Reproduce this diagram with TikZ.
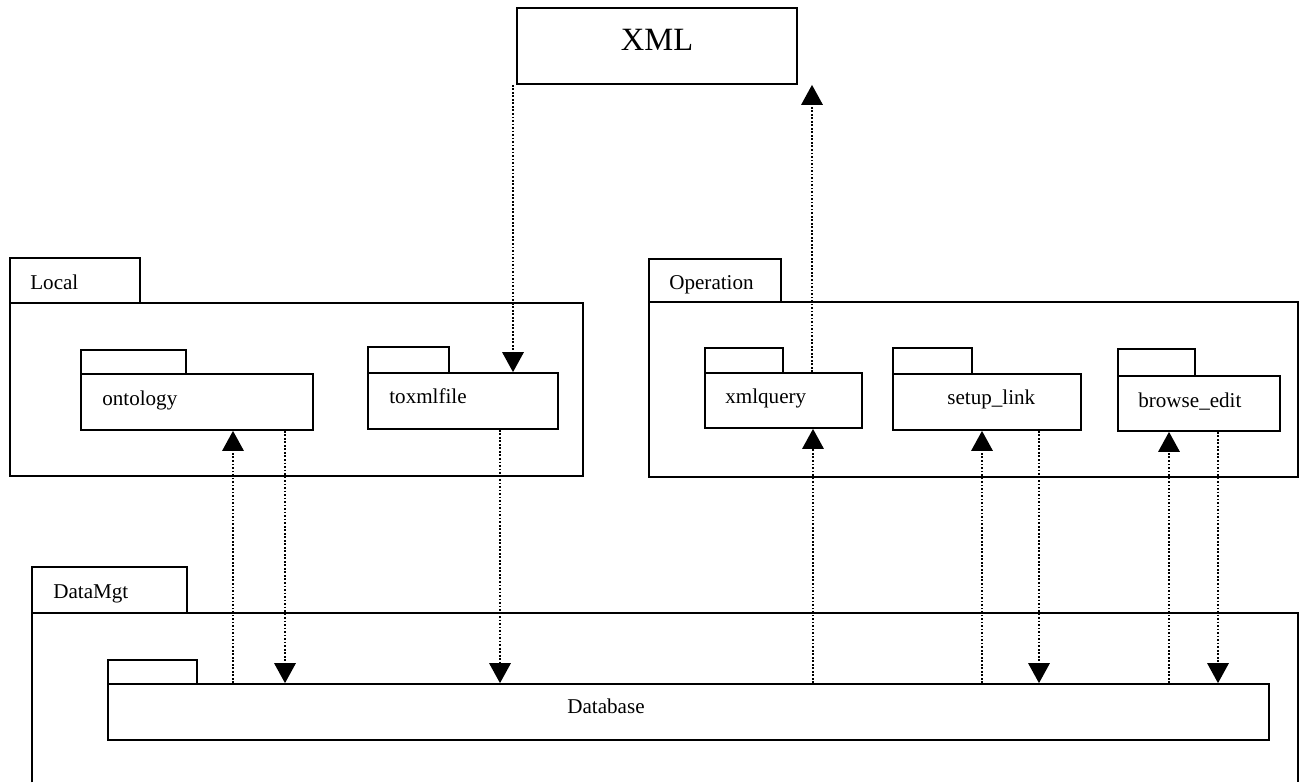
\documentclass[tikz,border=0pt]{standalone}
\usepackage{fontspec}
\setmainfont{Liberation Serif}
\usetikzlibrary{arrows.meta,fit}
\begin{document}
\begin{tikzpicture}[x=0.02cm,y=-0.02cm,
  box/.style={draw,line width=1pt,inner sep=0pt,fit={#1}},
  ghost/.style={inner sep=0pt,fit={#1}},
  lbl/.style={anchor=base west,inner sep=0pt,font=\fontsize{12}{14}\selectfont},
  dep/.style={line width=0.9pt,dash pattern=on 1pt off 1pt,
    -{Triangle[width=0.43cm,length=0.4cm]}},
  plain/.style={line width=0.9pt,dash pattern=on 1pt off 1pt}]
\useasboundingbox (0,0) rectangle (1304,782);

% top-level XML box
\node[box={(517,8) (797,84)}] (xml) {};
\node[anchor=base,inner sep=0pt,font=\fontsize{18.5}{22}\selectfont] (xmllbl) at (657,50) {XML};

% package Local
\node[box={(10,258) (140,303)}] (localtab) {};
\node[box={(10,303) (583,476)}] (local) {};
\node[lbl] (locallbl) at (30,289) {Local};
\node[box={(81,350) (186,374)}] (onttab) {};
\node[box={(81,374) (313,430)}] (ont) {};
\node[lbl] (ontlbl) at (102,405) {ontology};
\node[box={(368,347) (449,373)}] (toxtab) {};
\node[box={(368,373) (558,429)}] (tox) {};
\node[lbl] (toxlbl) at (389,403) {toxmlfile};

% package Operation
\node[box={(649,259) (781,302)}] (optab) {};
\node[box={(649,302) (1298,477)}] (op) {};
\node[lbl] (oplbl) at (669,289) {Operation};
\node[box={(705,348) (783,373)}] (xqtab) {};
\node[box={(705,373) (862,428)}] (xq) {};
\node[lbl] (xqlbl) at (725,403) {xmlquery};
\node[box={(893,348) (972,374)}] (sltab) {};
\node[box={(893,374) (1081,430)}] (sl) {};
\node[lbl] (sllbl) at (947,404) {setup\_link};
\node[box={(1118,349) (1195,376)}] (betab) {};
\node[box={(1118,376) (1280,431)}] (be) {};
\node[lbl] (belbl) at (1138,407) {browse\_edit};

% package DataMgt (runs past the lower edge)
\node[box={(32,567) (187,613)}] (dmtab) {};
\node[ghost={(32,613) (1298,782)}] (dm) {};
\draw[line width=1pt] (dm.south west) -- (dm.north west) -- (dm.north east) -- (dm.south east);
\node[lbl] (dmlbl) at (53,598) {DataMgt};
\node[box={(108,660) (197,684)}] (dbtab) {};
\node[box={(108,684) (1269,740)}] (db) {};
\node[lbl] (dblbl) at (567,713) {Database};

% dependencies with XML
\draw[dep] (xml.south -| 513,0) -- (tox.north -| 513,0);
\draw[dep] (xq.north -| 812,0) -- (xml.south -| 812,0);

% dependencies with Database
\draw[dep] (db.north -| 233,0) -- (ont.south -| 233,0);
\draw[dep] (ont.south -| 285,0) -- (db.north -| 285,0);
\draw[dep] (tox.south -| 500,0) -- (db.north -| 500,0);
\draw[dep] (db.north -| 813,0) -- (xq.south -| 813,0);
\draw[dep] (db.north -| 982,0) -- (sl.south -| 982,0);
\draw[dep] (sl.south -| 1039,0) -- (db.north -| 1039,0);
\draw[dep] (db.north -| 1169,0) -- (be.south -| 1169,0);
\draw[dep] (be.south -| 1218,0) -- (db.north -| 1218,0);
\end{tikzpicture}
\end{document}
